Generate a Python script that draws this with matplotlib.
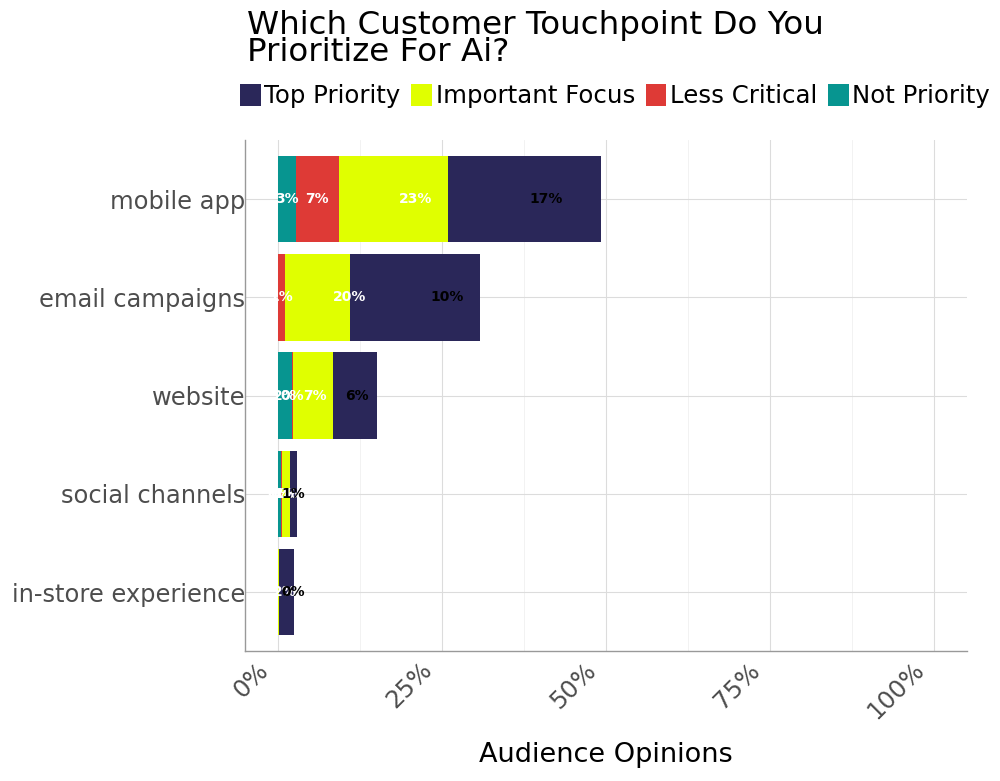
import matplotlib
matplotlib.use("Agg")
import matplotlib.pyplot as plt
import matplotlib.transforms as mtransforms
from matplotlib.ticker import MultipleLocator
from matplotlib.patches import Patch
import numpy as np

categories = ["mobile app", "email campaigns", "website", "social channels", "in-store experience"]
not_priority = [2.7, 0.0, 2.1, 0.5, 0.0]
less_critical = [6.6, 1.1, 0.2, 0.2, 0.0]
important_focus = [16.6, 9.9, 6.1, 1.1, 0.2]
top_priority = [23.3, 19.8, 6.7, 1.1, 2.2]
x_ticks = [0, 25, 50, 75, 100]

series_names = ["Top Priority", "Important Focus", "Less Critical", "Not Priority"]
colors = {"Top Priority": "#2a2759", "Important Focus": "#e0ff00",
          "Less Critical": "#de3a36", "Not Priority": "#079590"}

data = {"Not Priority": not_priority, "Less Critical": less_critical,
        "Important Focus": important_focus, "Top Priority": top_priority}

fig = plt.figure(figsize=(10, 7.81), dpi=100)
ax = fig.add_axes([0.245, 0.1665, 0.722, 0.654])

y = np.arange(len(categories))
bar_order = ["Not Priority", "Less Critical", "Important Focus", "Top Priority"]
left = np.zeros(len(categories))
for name in bar_order:
    vals = np.array(data[name])
    ax.barh(y, vals, left=left, height=0.88, color=colors[name], zorder=2)
    left += vals

# labels are stacked in a different order than the bars
label_order = ["Not Priority", "Less Critical", "Top Priority", "Important Focus"]
label_colors = {"Not Priority": "white", "Less Critical": "white",
                "Top Priority": "white", "Important Focus": "black"}
left = np.zeros(len(categories))
for name in label_order:
    vals = np.array(data[name])
    for i, v in enumerate(vals):
        if v > 0:
            ax.text(left[i] + v / 2, y[i], f"{v:.0f}%", ha="center", va="center",
                    fontsize=10, fontweight="bold", color=label_colors[name], zorder=3)
    left += vals

ax.set_xlim(-5, 105)
ax.set_ylim(len(categories) - 0.4, -0.6)
ax.tick_params(axis="x", which="both", length=0, pad=5)
ax.tick_params(axis="y", length=0, pad=0)
ax.set_yticks(y)
ax.set_yticklabels(categories, fontsize=17.4, color="#4d4d4d")
ax.set_xticks(x_ticks)
ax.xaxis.set_minor_locator(MultipleLocator(12.5))
ax.set_xticklabels([f"{t}%" for t in x_ticks], fontsize=17.5, color="#4d4d4d")
shift = mtransforms.ScaledTranslation(-5 / 100, 0, fig.dpi_scale_trans)
for lbl in ax.get_xticklabels():
    lbl.set_rotation(45)
    lbl.set_ha("right")
    lbl.set_va("top")
    lbl.set_rotation_mode("default")
    lbl.set_transform(lbl.get_transform() + shift)

ax.grid(True, which="major", color="#dcdcdc", linewidth=0.8, zorder=0)
ax.grid(True, which="minor", axis="x", color="#f0f0f0", linewidth=0.6, zorder=0)
ax.set_axisbelow(True)
for s in ["top", "right"]:
    ax.spines[s].set_visible(False)
for s in ["left", "bottom"]:
    ax.spines[s].set_color("#999999")
    ax.spines[s].set_linewidth(1)

ax.set_xlabel("Audience Opinions", fontsize=19.5, va="center")
ax.xaxis.set_label_coords(0.5, -0.2035)

fig.text(0.247, 0.95, "Which Customer Touchpoint Do You\nPrioritize For Ai?",
         fontsize=23.4, ha="left", va="center", linespacing=0.82)

handles = [Patch(facecolor=colors[n], label=n) for n in series_names]
fig.legend(handles=handles, loc="center left", bbox_to_anchor=(0.240, 0.877),
           ncol=4, frameon=False, fontsize=17.6, handlelength=0.85, handleheight=1.05,
           handletextpad=0.15, columnspacing=0.43, borderaxespad=0, borderpad=0)

fig.savefig("out.png", dpi=100)
